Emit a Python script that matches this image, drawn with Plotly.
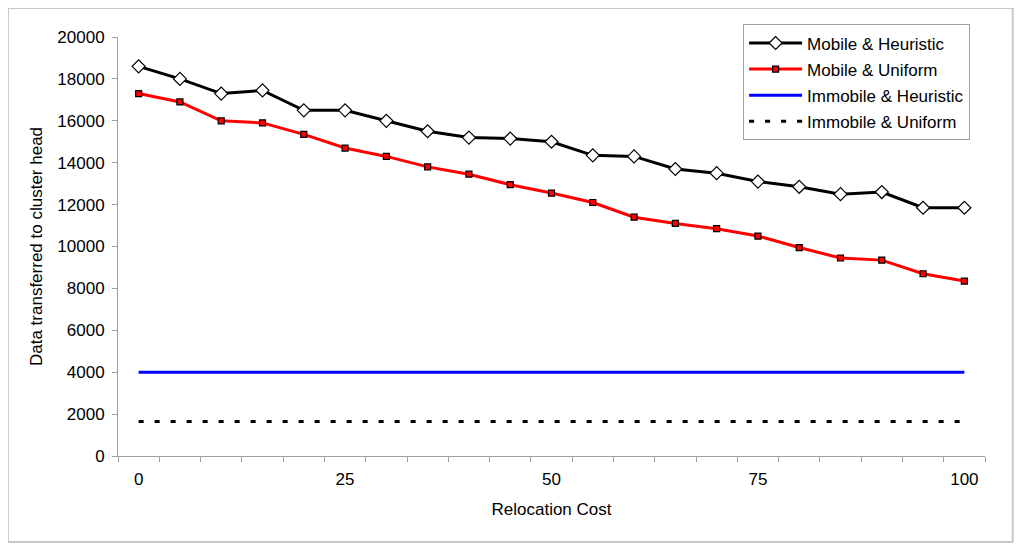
import plotly.graph_objects as go

relocation_cost = [0, 5, 10, 15, 20, 25, 30, 35, 40, 45, 50, 55, 60, 65, 70, 75, 80, 85, 90, 95, 100]
mobile_heuristic = [18600, 18000, 17300, 17450, 16500, 16500, 16000, 15500, 15200, 15150, 15000,
                    14350, 14300, 13700, 13500, 13100, 12850, 12500, 12600, 11850, 11850]
mobile_uniform = [17300, 16900, 16000, 15900, 15350, 14700, 14300, 13800, 13450, 12950, 12550,
                  12100, 11400, 11100, 10850, 10500, 9950, 9450, 9350, 8700, 8350]
immobile_heuristic = [4000] * 21
immobile_uniform = [1650] * 21
x_tick_labels = [0, 25, 50, 75, 100]

FONT = "Liberation Sans, Arial, sans-serif"

fig = go.Figure()
fig.add_trace(go.Scatter(x=relocation_cost, y=mobile_heuristic, mode="lines+markers",
                         name="Mobile & Heuristic", legendgroup="a",
                         line=dict(color="black", width=3),
                         marker=dict(symbol="diamond", size=10, color="white",
                                     line=dict(color="black", width=1.2))))
fig.add_trace(go.Scatter(x=relocation_cost, y=mobile_uniform, mode="lines+markers",
                         name="Mobile & Uniform", legendgroup="b",
                         line=dict(color="#ff0000", width=3),
                         marker=dict(symbol="square", size=6, color="#ff0000",
                                     line=dict(color="black", width=1.2))))
fig.add_trace(go.Scatter(x=relocation_cost, y=immobile_heuristic, mode="lines",
                         name="Immobile & Heuristic", legendgroup="c",
                         line=dict(color="#0000ff", width=3)))
fig.add_trace(go.Scatter(x=relocation_cost, y=immobile_uniform, mode="lines",
                         name="Immobile & Uniform", legendgroup="d",
                         line=dict(color="black", width=3, dash="5px,11px")))

fig.update_layout(
    width=1016, height=544,
    margin=dict(l=110, r=39, t=29, b=96),
    paper_bgcolor="white", plot_bgcolor="white",
    font=dict(family=FONT, size=17, color="black"),
    showlegend=True,
    legend=dict(x=0.721, y=1.03, xanchor="left", yanchor="top",
                bgcolor="white", bordercolor="#a0a0a0", borderwidth=1,
                font=dict(size=17), tracegroupgap=1, itemwidth=53),
    xaxis=dict(range=[-2.5, 102.5], tickmode="array", tickvals=x_tick_labels,
               ticktext=[str(v) for v in x_tick_labels], ticks="", showgrid=False,
               zeroline=False, showline=True, linecolor="#a0a0a0", linewidth=1,
               minor=dict(tick0=-2.5, dtick=5, ticks="outside", ticklen=5,
                          tickcolor="#a0a0a0", showgrid=False),
               ticklabelstandoff=8,
               title=dict(text="Relocation Cost", font=dict(size=17), standoff=14),
               tickfont=dict(size=17)),
    yaxis=dict(range=[0, 20000], dtick=2000, tickformat="d", ticks="outside", ticklen=5,
               tickcolor="#a0a0a0", showgrid=False, zeroline=False, showline=True,
               linecolor="#a0a0a0", linewidth=1, ticklabelstandoff=4,
               title=dict(text="Data transferred to cluster head", font=dict(size=17), standoff=10),
               tickfont=dict(size=17)),
    shapes=[dict(type="rect", xref="paper", yref="paper",
                 x0=-0.127, x1=1.032, y0=-0.205, y1=1.069,
                 line=dict(color="#c8c8c8", width=2), fillcolor="rgba(0,0,0,0)", layer="below")],
)

fig.write_html("out.html")
